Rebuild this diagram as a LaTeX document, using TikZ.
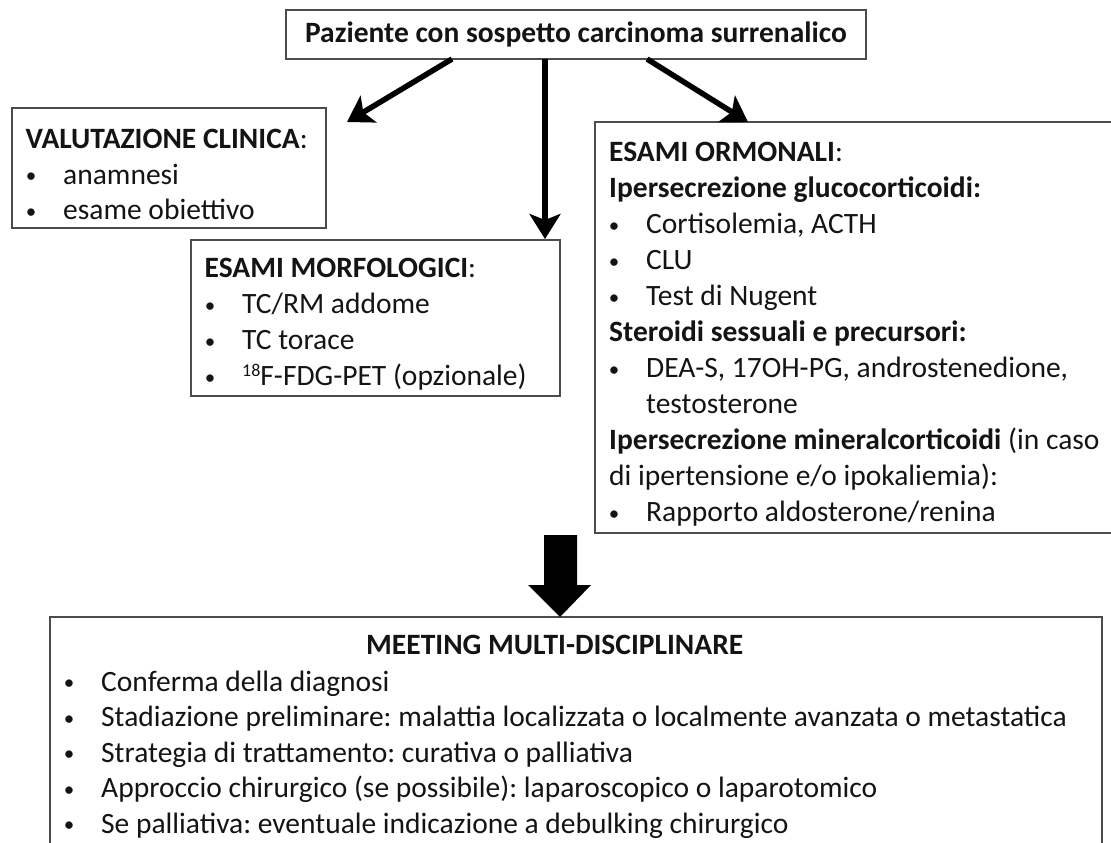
\documentclass[tikz,border=0pt]{standalone}
\usepackage{fontspec}
\setmainfont{Carlito}
\usetikzlibrary{arrows.meta}
\begin{document}
\frenchspacing
\begin{tikzpicture}[x=1pt,y=-1pt,
  box/.style={draw=black!70, line width=1.6pt, rectangle, inner sep=0pt},
  txt/.style={anchor=base west, inner sep=0pt, text=black!92, font=\fontsize{29.5}{35.5}\selectfont},
  hd/.style={anchor=base west, inner sep=0pt, text=black!92, font=\fontsize{29.5}{35.5}\selectfont\bfseries},
  bul/.style={anchor=base, inner sep=0pt, text=black!92, font=\fontsize{21}{25}\selectfont, yshift=1.5pt},
  arr/.style={line width=5.5pt, -{Stealth[length=25pt,width=31pt,inset=6pt]}}]
\useasboundingbox (0,0) rectangle (1111,843);

% boxes
\node[box, minimum width=580pt, minimum height=49pt, text=black!92, font=\fontsize{29.5}{35.5}\selectfont\bfseries] (top) at (576,34.5) {Paziente con sospetto carcinoma surrenalico};
\node[box, minimum width=314pt, minimum height=120pt] (val) at (169,168) {};
\node[box, minimum width=369pt, minimum height=156pt] (morf) at (375.5,318) {};
\node[box, minimum width=530pt, minimum height=411pt] (orm) at (860,327.5) {};
\node[box, minimum width=1052pt, minimum height=236pt] (mdt) at (576,735) {};

% VALUTAZIONE CLINICA
\node[hd] (v0) at (25.5,148.5) {VALUTAZIONE CLINICA\mdseries:};
\node[bul] (vb1) at (31,184) {•};
\node[txt] (v1) at (63,184) {anamnesi};
\node[bul] (vb2) at (31,219.5) {•};
\node[txt] (v2) at (63,219.5) {esame obiettivo};

% ESAMI MORFOLOGICI
\node[hd] (m0) at (204.5,277.5) {ESAMI MORFOLOGICI\mdseries:};
\node[bul] (mb1) at (210,313.5) {•};
\node[txt] (m1) at (242,313.5) {TC/RM addome};
\node[bul] (mb2) at (210,349.5) {•};
\node[txt] (m2) at (242,349.5) {TC torace};
\node[bul] (mb3) at (210,385.5) {•};
\node[txt] (m3) at (242,385.5) {\raisebox{0.62ex}{\fontsize{18}{20}\selectfont 18}F-FDG-PET (opzionale)};

% ESAMI ORMONALI
\node[hd] (o0) at (609,161.5) {ESAMI ORMONALI\mdseries:};
\node[hd] (o1) at (609,197.5) {Ipersecrezione glucocorticoidi:};
\node[bul] (ob2) at (614,233.5) {•};
\node[txt] (o2) at (646,233.5) {Cortisolemia, ACTH};
\node[bul] (ob3) at (614,269.5) {•};
\node[txt] (o3) at (646,269.5) {CLU};
\node[bul] (ob4) at (614,305.5) {•};
\node[txt] (o4) at (646,305.5) {Test di Nugent};
\node[hd] (o5) at (609,341.5) {Steroidi sessuali e precursori:};
\node[bul] (ob6) at (614,377.5) {•};
\node[txt] (o6) at (646,377.5) {DEA-S, 17OH-PG, androstenedione,};
\node[txt] (o7) at (646,413.5) {testosterone};
\node[txt] (o8) at (609,449.5) {\textbf{Ipersecrezione mineralcorticoidi} (in caso};
\node[txt] (o9) at (609,485.5) {di ipertensione e/o ipokaliemia):};
\node[bul] (ob10) at (614,521.5) {•};
\node[txt] (o10) at (646,521.5) {Rapporto aldosterone/renina};

% MEETING MULTI-DISCIPLINARE
\node[hd] (t0) at (366,654.5) {MEETING MULTI-DISCIPLINARE};
\node[bul] (tb1) at (69,691) {•};
\node[txt] (t1) at (101,691) {Conferma della diagnosi};
\node[bul] (tb2) at (69,726.5) {•};
\node[txt] (t2) at (101,726.5) {Stadiazione preliminare: malattia localizzata o localmente avanzata o metastatica};
\node[bul] (tb3) at (69,762) {•};
\node[txt] (t3) at (101,762) {Strategia di trattamento: curativa o palliativa};
\node[bul] (tb4) at (69,797.5) {•};
\node[txt] (t4) at (101,797.5) {Approccio chirurgico (se possibile): laparoscopico o laparotomico};
\node[bul] (tb5) at (69,833) {•};
\node[txt] (t5) at (101,833) {Se palliativa: eventuale indicazione a debulking chirurgico};

% connectors
\coordinate (s1) at (452,59);
\coordinate (e1) at (347,122);
\coordinate (s2) at (545,59);
\coordinate (e2) at (545,239);
\coordinate (s3) at (647,59);
\coordinate (e3) at (748,122);
\draw[arr] (s1) -- (e1);
\draw[arr] (s2) -- (e2);
\draw[arr] (s3) -- (e3);

% big block arrow
\coordinate (bigtip) at (560,617);
\fill[black] (544,535) -- (577,535) -- (577,585) -- (591,585) -- (bigtip) -- (528,585) -- (544,585) -- cycle;
\end{tikzpicture}
\end{document}
